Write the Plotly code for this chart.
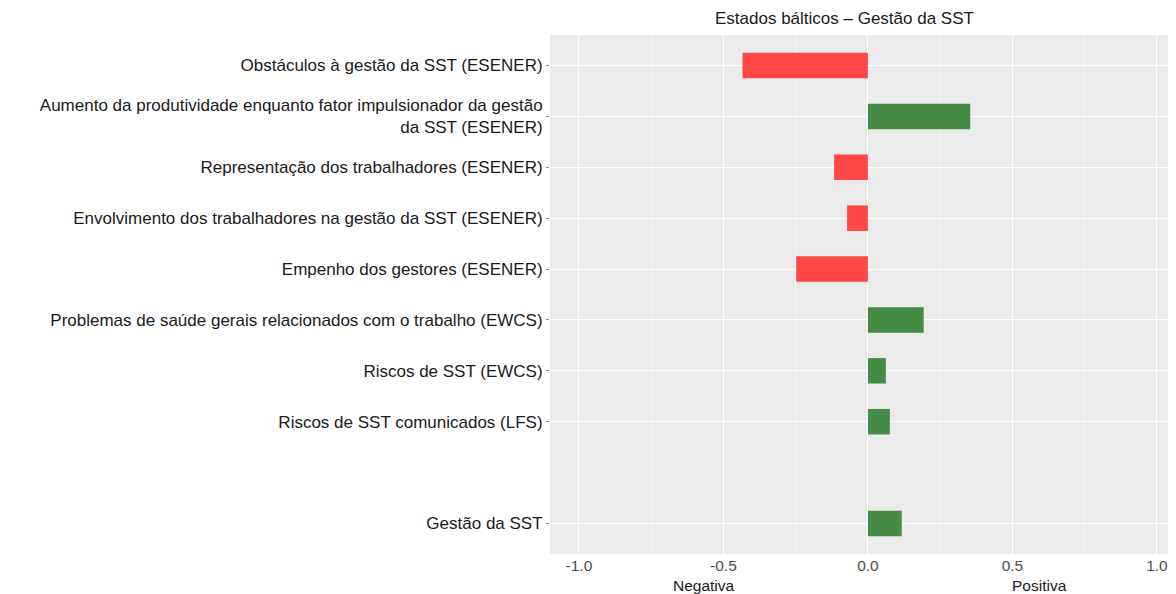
import plotly.graph_objects as go

categories = [
    "Obstáculos à gestão da SST (ESENER)",
    "Aumento da produtividade enquanto fator impulsionador da gestão<br>da SST (ESENER)",
    "Representação dos trabalhadores (ESENER)",
    "Envolvimento dos trabalhadores na gestão da SST (ESENER)",
    "Empenho dos gestores (ESENER)",
    "Problemas de saúde gerais relacionados com o trabalho (EWCS)",
    "Riscos de SST (EWCS)",
    "Riscos de SST comunicados (LFS)",
    " ",
    "Gestão da SST",
]
values = [-0.434, 0.354, -0.117, -0.072, -0.248, 0.193, 0.062, 0.076, None, 0.117]
tick_vals = [-1.0, -0.5, 0.0, 0.5, 1.0]
tick_text = ["-1.0", "-0.5", "0.0", "0.5", "1.0"]
title = "Estados bálticos – Gestão da SST"

FONT = "Liberation Sans, Arial, sans-serif"
colors = ["#FF4747" if (v is not None and v < 0) else "#458A45" for v in values]
shown_cats = [c for c in categories if c.strip()]

fig = go.Figure(go.Bar(
    y=categories, x=values, orientation="h", width=0.5,
    marker=dict(color=colors, line=dict(width=0)),
))

# page body has an 8px margin in the browser; figure sized to fill the window
fig.update_layout(
    width=1168, height=586,
    margin=dict(l=542, r=0, t=27, b=40, autoexpand=False),
    plot_bgcolor="#EBEBEB", paper_bgcolor="white",
    showlegend=False,
    font=dict(family=FONT, size=17, color="#1A1A1A"),
)
fig.update_xaxes(
    range=[-1.1, 1.066], tickvals=tick_vals, ticktext=tick_text,
    showgrid=True, gridcolor="white", gridwidth=1.2,
    minor=dict(tickvals=[-0.75, -0.25, 0.25, 0.75], showgrid=True, gridcolor="#F5F5F5", gridwidth=0.6),
    zeroline=False, ticks="",
    tickfont=dict(family=FONT, size=15.5, color="#4D4D4D"),
    showline=False,
)
fig.update_yaxes(
    categoryorder="array", categoryarray=categories, type="category",
    range=[9.6, -0.6], autorange=False,
    tickmode="array", tickvals=shown_cats, ticktext=shown_cats,
    showgrid=True, gridcolor="white", gridwidth=1.2, zeroline=False,
    ticks="outside", ticklen=3, tickcolor="#888888",
    tickfont=dict(family=FONT, size=17, color="#1A1A1A"),
)
fig.add_annotation(x=-0.08, xref="x", y=1, yref="paper", yanchor="middle", yshift=17,
                   text=title, showarrow=False,
                   font=dict(family=FONT, size=17, color="#1A1A1A"))
fig.add_annotation(x=-0.566, xref="x", y=0, yref="paper", yanchor="middle", yshift=-31,
                   text="Negativa", showarrow=False,
                   font=dict(family=FONT, size=15.5, color="#1A1A1A"))
fig.add_annotation(x=0.593, xref="x", y=0, yref="paper", yanchor="middle", yshift=-31,
                   text="Positiva", showarrow=False,
                   font=dict(family=FONT, size=15.5, color="#1A1A1A"))

fig.write_html("out.html")
